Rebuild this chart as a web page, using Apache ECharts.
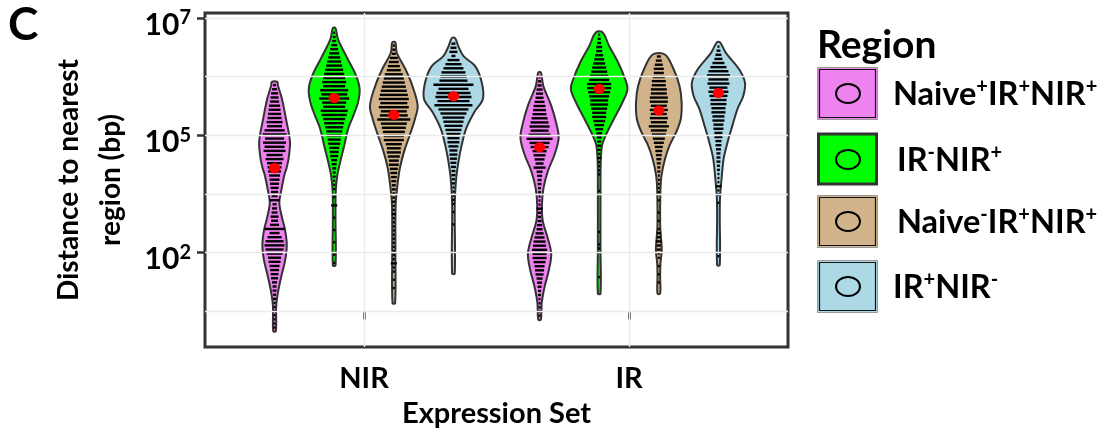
<!DOCTYPE html>
<html>
<head>
<meta charset="utf-8">
<script src="https://cdn.jsdelivr.net/npm/echarts@6/dist/echarts.min.js"></script>
<style>
  html, body { margin: 0; padding: 0; background: #fff; }
  #main { width: 1114px; height: 433px; }
</style>
</head>
<body>
<div id="main"></div>
<script>
// ---- data (y in axis units: 1 = 10^2, 3 = 10^5, 5 = 10^7) ----
var groups = ['NIR', 'IR'];
var regions = ['Naive⁺IR⁺NIR⁺', 'IR⁻NIR⁺', 'Naive⁻IR⁺NIR⁺', 'IR⁺NIR⁻'];
var regionColors = ['#ee82ee', '#00ff00', '#d2b48c', '#add8e6'];
var yTicks = [1, 3, 5];
var yTickExp = ['2', '5', '7'];
var yGrid = [0, 1, 2, 3, 4, 5];

// red points per region
var nirMeans = [2.441, 3.636, 3.350, 3.665];
var irMeans = [2.795, 3.788, 3.423, 3.721];

// violin outlines: [y, half width in x units]
var nirNaivePos = [[3.911,0.010],[3.843,0.013],[3.620,0.028],[3.283,0.043],[2.896,0.058],[2.609,0.053],[2.441,0.045],[2.323,0.037],[2.054,0.025],[1.852,0.018],[1.599,0.028],[1.380,0.040],[1.128,0.046],[0.875,0.040],[0.589,0.025],[0.303,0.012],[0.084,0.006],[-0.337,0.005]];
var nirIrNeg = [[4.827,0.005],[4.630,0.015],[4.293,0.052],[4.012,0.083],[3.788,0.096],[3.564,0.090],[3.333,0.072],[3.114,0.053],[2.828,0.038],[2.554,0.023],[2.323,0.012],[2.054,0.006],[1.599,0.005],[0.785,0.005]];
var nirNaiveNeg = [[4.584,0.006],[4.411,0.011],[4.125,0.044],[3.843,0.070],[3.507,0.090],[3.283,0.080],[3.002,0.060],[2.727,0.039],[2.441,0.023],[2.160,0.014],[1.823,0.007],[1.044,0.006],[0.140,0.005]];
var nirNirNeg = [[4.658,0.006],[4.512,0.019],[4.348,0.038],[4.180,0.082],[3.901,0.107],[3.620,0.111],[3.396,0.079],[3.114,0.048],[2.833,0.031],[2.554,0.019],[2.273,0.0105],[1.823,0.005],[0.645,0.005]];
var irNaivePos = [[4.069,0.005],[3.843,0.014],[3.507,0.044],[3.170,0.065],[2.946,0.072],[2.665,0.056],[2.386,0.031],[2.104,0.015],[1.823,0.009],[1.544,0.012],[1.263,0.030],[0.981,0.044],[0.702,0.035],[0.421,0.019],[0.140,0.008],[-0.140,0.005]];
var irIrNeg = [[4.753,0.013],[4.517,0.038],[4.237,0.072],[3.956,0.098],[3.788,0.107],[3.564,0.088],[3.283,0.056],[3.002,0.025],[2.833,0.011],[2.554,0.006],[2.160,0.005],[1.044,0.005],[0.303,0.005]];
var irNaiveNeg = [[4.377,0.023],[4.125,0.056],[3.843,0.078],[3.564,0.086],[3.283,0.083],[3.059,0.066],[2.833,0.041],[2.609,0.024],[2.328,0.0105],[2.054,0.006],[1.487,0.005],[1.263,0.008],[1.044,0.011],[0.813,0.006],[0.589,0.005],[0.303,0.005]];
var irNirNeg = [[4.584,0.006],[4.406,0.028],[4.125,0.078],[3.901,0.100],[3.675,0.094],[3.451,0.072],[3.170,0.053],[2.891,0.035],[2.609,0.020],[2.273,0.012],[1.936,0.006],[1.599,0.005],[0.791,0.005]];

// dot stacks: y of first bin, then stack widths from top, one bin per 0.07
var nirStripTop = [3.855, 4.747, 4.529, 4.562];
var irStripTop = [3.990, 4.714, 4.343, 4.512];
var nirNaivePosDots = [3,5,7,8,9,11,12,13,14,16,15,20,24,19,23,20,22,16,18,15,14,13,11,10,9,8,7,6,10,4,5,6,8,7,9,20,10,14,18,20,18,16,13,12,10,9,8,7,5,4,4,3,3,2,2,2,2,2,2,2];
var nirIrNegDots = [2,3,4,6,8,10,12,14,16,18,20,22,24,22,28,26,30,24,22,27,25,22,20,18,16,15,13,12,10,9,8,6,5,4,3,3,2,2,2,0,2,0,6,0,0,2,0,0,2,0,0,2,0,0,2,0,2];
var nirNaiveNegDots = [2,3,4,8,10,12,14,18,20,22,24,26,28,30,27,30,26,28,33,26,24,22,20,20,16,14,14,12,10,10,8,7,6,5,4,4,3,3,3,2,2,4,2,2,2,2,2,2,2,2,2,2,2,6,2,2,0,2,0,2,0,0,0];
var nirNirNegDots = [4,6,8,4,12,16,20,24,26,28,40,30,34,36,32,38,30,26,22,20,18,16,14,12,12,10,8,8,7,6,5,4,4,3,3,2,2,2,2,2,0,2,0,0,2];
var irNaivePosDots = [2,3,4,6,7,8,10,12,13,14,16,18,20,18,22,26,20,18,14,12,10,8,12,6,5,4,4,3,3,2,2,2,6,3,3,4,5,6,8,10,12,13,15,14,14,12,10,9,8,6,5,4,3,3,2,2,2,2,2];
var irIrNegDots = [2,3,4,6,6,8,10,12,14,16,18,20,24,24,22,20,18,18,16,14,14,12,10,8,6,5,4,4,3,2,4,2,2,2,2,0,0,0,2,0,0,0,0,0,0,0,0,0,2,0,0,2,2,0,0,0,0,0,0,2,0,0,0,0];
var irNaiveNegDots = [4,6,8,10,10,12,14,14,16,16,18,18,16,18,16,18,16,20,16,14,12,10,8,7,6,5,4,3,3,2,2,2,2,2,0,2,0,0,2,0,2,0,2,4,4,6,4,4,2,2,0,2,0,2,0,2,0,0];
var irNirNegDots = [2,4,6,8,12,16,20,23,20,22,18,20,18,16,16,14,14,12,12,10,10,8,8,6,6,5,4,4,4,3,3,2,2,2,6,2,2,0,2,0,0,0,0,0,0,0,0,0,0,0,0,2,0,0,0];

// lookup tables built from the arrays above
var outlines = [[nirNaivePos, nirIrNeg, nirNaiveNeg, nirNirNeg], [irNaivePos, irIrNeg, irNaiveNeg, irNirNeg]];
var dots = [[nirNaivePosDots, nirIrNegDots, nirNaiveNegDots, nirNirNegDots], [irNaivePosDots, irIrNegDots, irNaiveNegDots, irNirNegDots]];
var stripTops = [nirStripTop, irStripTop];
var means = [nirMeans, irMeans];

var dodge = [-0.3375, -0.1125, 0.1125, 0.3375];
var binStep = 0.07;
var FONT = 'Lato';

function supRich(s) {
  return s.replace(/([^⁺⁻]+)|([⁺⁻])/g, function (m, a, b) {
    return a ? '{n|' + a + '}' : '{s|' + (b === '⁺' ? '+' : '-') + '}';
  });
}

function violinItem(r) {
  return function (params, api) {
    var g = api.value(2);
    var cx = api.value(0) + dodge[r];
    var line = outlines[g][r];
    var pts = [], i;
    for (i = 0; i < line.length; i++) pts.push(api.coord([cx + line[i][1], line[i][0]]));
    for (i = line.length - 1; i >= 0; i--) pts.push(api.coord([cx - line[i][1], line[i][0]]));
    var children = [{
      type: 'polygon',
      shape: { points: pts, smooth: 0.35 },
      style: { fill: regionColors[r], stroke: '#333', lineWidth: 2 }
    }];
    var xc = api.coord([cx, 0])[0];
    var stack = dots[g][r];
    for (i = 0; i < stack.length; i++) {
      if (!stack[i]) continue;
      var yy = api.coord([cx, stripTops[g][r] - i * binStep])[1];
      children.push({
        type: 'rect',
        shape: { x: xc - stack[i] / 2, y: yy - 1.2, width: stack[i], height: 2.4 },
        style: { fill: '#000' }
      });
    }
    var p = api.coord([cx, api.value(1)]);
    children.push({
      type: 'ellipse',
      shape: { cx: p[0], cy: p[1], rx: 5.6, ry: 5.1 },
      style: { fill: '#ff0000' }
    });
    return { type: 'group', children: children };
  };
}

var series = [{
  type: 'line', data: [], silent: true, z: 1,
  markLine: {
    symbol: 'none', silent: true, animation: false,
    label: { show: false },
    lineStyle: { color: '#ebebeb', width: 1.4, type: 'solid' },
    data: yGrid.map(function (v) { return { yAxis: v }; })
      .concat([1, 2].map(function (v) { return { xAxis: v }; }))
  }
}];
regions.forEach(function (name, r) {
  series.push({
    type: 'custom', name: name, z: 2,
    renderItem: violinItem(r),
    encode: { x: 0, y: 1 },
    data: groups.map(function (gName, g) { return [g + 1, means[g][r], g]; })
  });
});

// legend drawn as graphic keys
var graphic = [
  { type: 'text', left: 8, top: 2, style: { text: 'C', font: 'bold 46px ' + FONT, fill: '#000' } },
  { type: 'text', x: 817, y: 45, style: { text: 'Region', font: 'bold 39px ' + FONT, fill: '#000', verticalAlign: 'middle' } }
];
var keyTops = [67, 133, 195, 260];
var textX = [893, 897, 897, 893];
regions.forEach(function (name, r) {
  var top = keyTops[r];
  if (r === 1) {
    graphic.push({ type: 'rect', shape: { x: 818.5, y: top + 1, width: 58, height: 50 },
      style: { fill: regionColors[r], stroke: '#333', lineWidth: 3 } });
  } else {
    graphic.push({ type: 'rect', shape: { x: 817.5, y: top + 0.5, width: 60, height: 52 },
      style: { fill: regionColors[r], stroke: '#999', lineWidth: 1 } });
    graphic.push({ type: 'rect', shape: { x: 819.5, y: top + 2.5, width: 56, height: 48 },
      style: { fill: 'none', stroke: '#111', lineWidth: 1.2 } });
  }
  graphic.push({ type: 'ellipse', shape: { cx: 848, cy: top + 26.5, rx: 12, ry: 9.5 },
    style: { fill: 'none', stroke: '#000', lineWidth: 2 } });
  graphic.push({ type: 'text', x: textX[r], y: top + 27,
    style: {
      text: supRich(name), verticalAlign: 'middle', align: 'left',
      rich: {
        n: { fontFamily: FONT, fontWeight: 'bold', fontSize: 32.5, fill: '#000', lineHeight: 35, verticalAlign: 'bottom' },
        s: { fontFamily: FONT, fontWeight: 'bold', fontSize: 20, fill: '#000', lineHeight: 20, verticalAlign: 'top' }
      }
    } });
});

var chart = echarts.init(document.getElementById('main'), null, { renderer: 'canvas' });
chart.setOption({
  animation: false,
  backgroundColor: '#fff',
  grid: { left: 205, right: 326, top: 13, bottom: 82, show: true, borderColor: '#333', borderWidth: 3, backgroundColor: 'transparent' },
  xAxis: {
    type: 'value', min: 0.4, max: 2.6,
    axisLine: { show: false },
    splitLine: { show: false },
    axisTick: { show: true, customValues: [1, 2], length: 8, lineStyle: { color: '#333', width: 2.5 } },
    axisLabel: {
      customValues: [1, 2], margin: 17,
      fontFamily: FONT, fontWeight: 'bold', fontSize: 29, color: '#000',
      formatter: function (v) { return groups[Math.round(v) - 1]; }
    },
    name: 'Expression Set', nameLocation: 'middle', nameGap: 52,
    nameTextStyle: { fontFamily: FONT, fontWeight: 'bold', fontSize: 29, color: '#000' }
  },
  yAxis: {
    type: 'value', min: -0.606, max: 5.084,
    axisLine: { show: false },
    splitLine: { show: false },
    axisTick: { show: true, customValues: yTicks, length: 8, lineStyle: { color: '#333', width: 2.5 } },
    axisLabel: {
      customValues: yTicks, margin: 14, padding: [12, 0, 0, 0],
      formatter: function (v) {
        var k = yTicks.indexOf(Math.round(v));
        return '{n|10}{s|' + yTickExp[k] + '}';
      },
      rich: {
        n: { fontFamily: FONT, fontWeight: 'bold', fontSize: 30, color: '#000', lineHeight: 32, verticalAlign: 'bottom' },
        s: { fontFamily: FONT, fontWeight: 'bold', fontSize: 20, color: '#000', lineHeight: 18, verticalAlign: 'top' }
      }
    },
    name: 'Distance to nearest\nregion (bp)', nameLocation: 'middle', nameGap: 73,
    nameTextStyle: { fontFamily: FONT, fontWeight: 'bold', fontSize: 28, color: '#000', lineHeight: 42 }
  },
  graphic: graphic,
  series: series
});
</script>
</body>
</html>
